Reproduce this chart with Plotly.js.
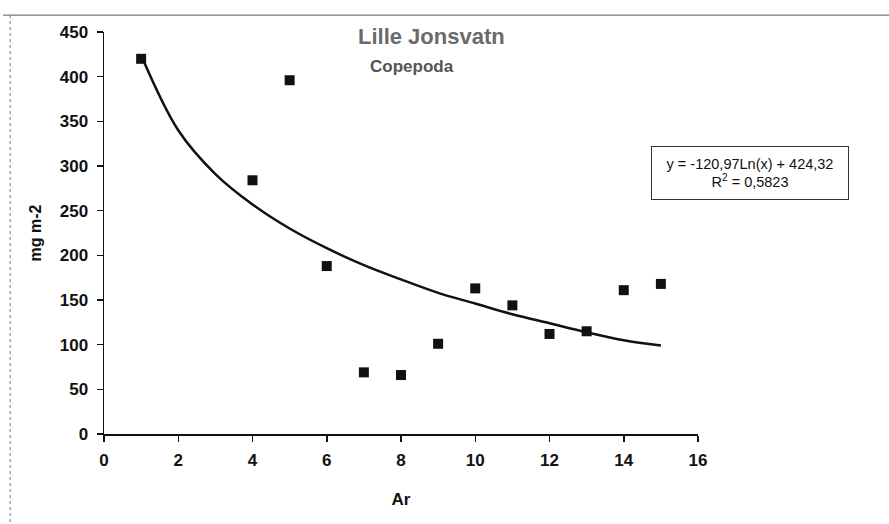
<!DOCTYPE html>
<html>
<head>
<meta charset="utf-8">
<script src="https://cdn.plot.ly/plotly-3.0.1.min.js"></script>
<style>html,body{margin:0;padding:0;background:#fff;}#chart{width:889px;height:524px;}</style>
</head>
<body>
<div id="chart"></div>
<script>
// Observed data (year index vs biomass mg m-2)
var years = [1, 4, 5, 6, 7, 8, 9, 10, 11, 12, 13, 14, 15];
var biomass = [420, 284, 396, 188, 69, 66, 101, 163, 144, 112, 115, 161, 168];

// Logarithmic trendline
var trendX = [1, 2, 3, 4, 5, 6, 7, 8, 9, 10, 11, 12, 13, 14, 15];
var trendY = [424, 340, 291, 257, 230, 208, 189, 173, 158, 146, 134, 124, 114, 105, 99];

var xTicks = [0, 2, 4, 6, 8, 10, 12, 14, 16];
var yTicks = [0, 50, 100, 150, 200, 250, 300, 350, 400, 450];

var titleText = "Lille Jonsvatn";
var subtitleText = "Copepoda";
var equationText = "y = -120,97Ln(x) + 424,32<br>R<sup>2</sup> = 0,5823";

var fontFam = "Liberation Sans, Arial, sans-serif";

var traces = [
  {
    x: trendX, y: trendY, type: "scatter", mode: "lines",
    line: {color: "#111", width: 2.5, shape: "spline", smoothing: 1},
    hoverinfo: "skip", showlegend: false
  },
  {
    x: years, y: biomass, type: "scatter", mode: "markers",
    marker: {symbol: "square", size: 10, color: "#111"},
    showlegend: false
  }
];

var layout = {
  width: 889, height: 524,
  margin: {l: 104, r: 191, t: 32, b: 90},
  paper_bgcolor: "#fff", plot_bgcolor: "#fff",
  font: {family: fontFam, color: "#111"},
  xaxis: {
    range: [0, 16], tickvals: xTicks, ticktext: xTicks.map(String),
    showgrid: false, zeroline: false, showline: true, linecolor: "#111", linewidth: 1.5,
    ticks: "outside", ticklen: 6, tickcolor: "#111", tickwidth: 1.5, ticklabelstandoff: 4,
    tickfont: {family: fontFam, size: 17, color: "#111", weight: "bold"},
    title: {text: "Ar", font: {family: fontFam, size: 17, color: "#111", weight: "bold"}, standoff: 24}
  },
  yaxis: {
    range: [0, 450], tickvals: yTicks, ticktext: yTicks.map(String),
    showgrid: false, zeroline: false, showline: true, linecolor: "#111", linewidth: 1.5,
    ticks: "outside", ticklen: 6, tickcolor: "#111", tickwidth: 1.5, ticklabelstandoff: 5,
    tickfont: {family: fontFam, size: 17, color: "#111", weight: "bold"},
    title: {text: "mg m-2", font: {family: fontFam, size: 16, color: "#111", weight: "bold"}, standoff: 14}
  },
  annotations: [
    {text: titleText, xref: "paper", yref: "paper", x: 0.552, y: 0.99, xanchor: "center", yanchor: "middle",
     showarrow: false, font: {family: fontFam, size: 22, color: "#6a6a6a", weight: "bold"}},
    {text: subtitleText, xref: "paper", yref: "paper", x: 0.519, y: 0.913, xanchor: "center", yanchor: "middle",
     showarrow: false, font: {family: fontFam, size: 17, color: "#555", weight: "bold"}},
    {text: equationText, xref: "paper", yref: "paper", x: 1.0875, y: 0.649, xanchor: "center", yanchor: "middle",
     showarrow: false, align: "center", width: 190, height: 46, bordercolor: "#333", borderwidth: 1, borderpad: 3,
     bgcolor: "#fff", font: {family: fontFam, size: 14.5, color: "#111"}}
  ],
  shapes: [
    {type: "line", xref: "paper", yref: "paper", x0: -0.17, x1: 1.33, y0: 1.042, y1: 1.042,
     line: {color: "#555", width: 1}},
    {type: "line", xref: "paper", yref: "paper", x0: -0.158, x1: -0.158, y0: 1.042, y1: -0.224,
     line: {color: "#777", width: 1, dash: "dot"}}
  ]
};

Plotly.newPlot("chart", traces, layout, {staticPlot: true, displayModeBar: false});
</script>
</body>
</html>
